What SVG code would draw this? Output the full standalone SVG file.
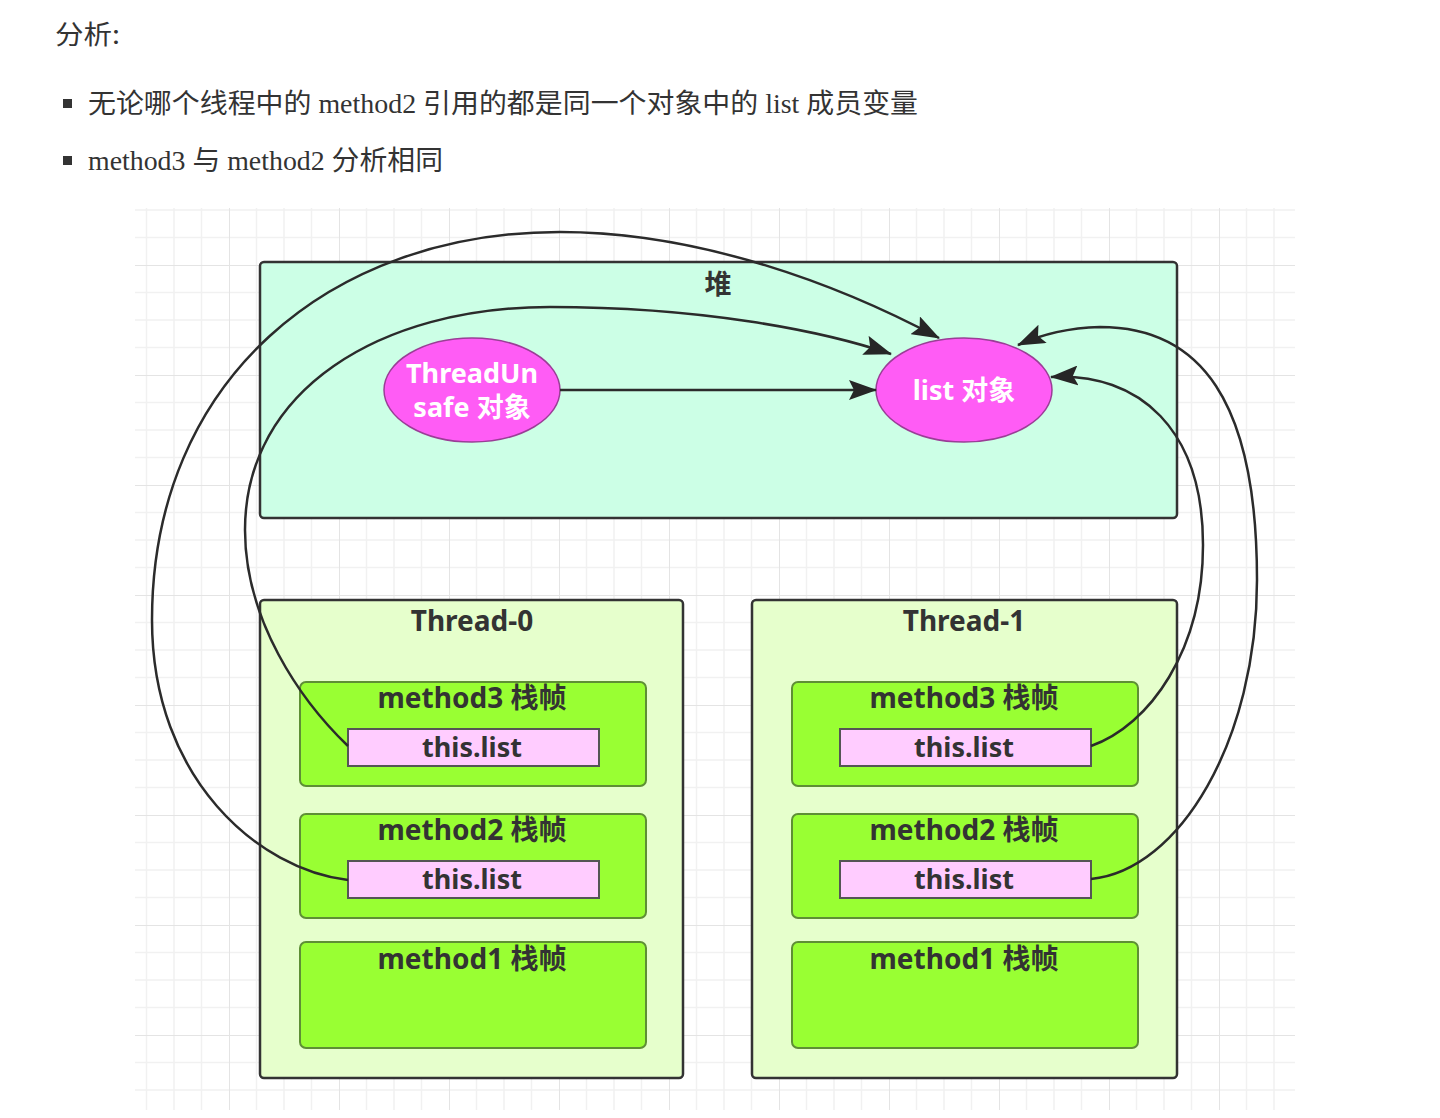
<svg xmlns="http://www.w3.org/2000/svg" width="1440" height="1118" viewBox="0 0 1440 1118">
<defs>
<pattern id="grid" patternUnits="userSpaceOnUse" x="9" y="45" width="110" height="110">
<path d="M27.5,0V110M55,0V110M82.5,0V110M0,27.5H110M0,55H110M0,82.5H110" stroke="#f1f1f1" stroke-width="1.5" fill="none"/>
<path d="M0,0V110M0,0H110" stroke="#e4e4e4" stroke-width="2" fill="none"/>
</pattern>
<marker id="arr" markerUnits="userSpaceOnUse" markerWidth="28" markerHeight="20" viewBox="0 0 28 20" refX="27" refY="10" orient="auto">
<path d="M0,0 L28,10 L0,20 L5,10 Z" fill="#262626"/>
</marker>
</defs>
<style>
.hdr{font-family:"Noto Sans CJK SC","Noto Sans",sans-serif;font-size:26px;fill:#333;}
.bul{font-family:"Liberation Serif","Noto Sans CJK SC",serif;font-size:27px;fill:#333;}
.lbl{font-family:"Noto Sans","Noto Sans CJK SC",sans-serif;font-size:27px;font-weight:bold;fill:#333;text-anchor:middle;}
.big{font-size:28px;}
.wlbl{font-family:"Noto Sans","Noto Sans CJK SC",sans-serif;font-size:27px;font-weight:bold;fill:#fff;text-anchor:middle;}
.heap{fill:#ccffe6;stroke:#333;stroke-width:2.5;}
.thread{fill:#e6ffcc;stroke:#333;stroke-width:2.5;}
.frame{fill:#99ff33;stroke:#5e8f35;stroke-width:2;}
.ref{fill:#ffccff;stroke:#555;stroke-width:2;}
.obj{fill:#ff5cf5;stroke:#9a3e96;stroke-width:1.5;}
.conn{fill:none;stroke:#2b2b2b;stroke-width:2.5;marker-end:url(#arr);}
</style>
<rect width="1440" height="1118" fill="#fff"/>
<text class="hdr" x="55" y="44" textLength="65" lengthAdjust="spacingAndGlyphs">分析:</text>
<rect x="63" y="99" width="9" height="9" fill="#333"/>
<text class="bul" x="88" y="113" textLength="830" lengthAdjust="spacingAndGlyphs">无论哪个线程中的 method2 引用的都是同一个对象中的 list 成员变量</text>
<rect x="63" y="156" width="9" height="9" fill="#333"/>
<text class="bul" x="88" y="170" textLength="355" lengthAdjust="spacingAndGlyphs">method3 与 method2 分析相同</text>
<rect x="135" y="208" width="1160" height="902" fill="url(#grid)"/>
<g id="heap">
<rect class="heap" x="260" y="262" width="917" height="256" rx="4"/>
<text class="lbl" x="718" y="294">堆</text>
</g>
<g id="threadunsafe">
<ellipse class="obj" cx="472" cy="390" rx="88" ry="52"/>
<text class="wlbl" x="472" y="383">ThreadUn</text>
<text class="wlbl" x="472" y="417">safe 对象</text>
</g>
<g id="listobj">
<ellipse class="obj" cx="964" cy="390" rx="88" ry="52"/>
<text class="wlbl" x="964" y="400">list 对象</text>
</g>
<g id="thread0">
<rect class="thread" x="260" y="600" width="423" height="478" rx="4"/>
<text class="lbl big" x="472" y="631">Thread-0</text>
</g>
<g id="t0m3">
<rect class="frame" x="300" y="682" width="346" height="104" rx="6"/>
<text class="lbl big" x="472" y="708">method3 栈帧</text>
<rect class="ref" x="348" y="729" width="251" height="37"/>
<text class="lbl" x="472" y="757">this.list</text>
</g>
<g id="t0m2">
<rect class="frame" x="300" y="814" width="346" height="104" rx="6"/>
<text class="lbl big" x="472" y="840">method2 栈帧</text>
<rect class="ref" x="348" y="861" width="251" height="37"/>
<text class="lbl" x="472" y="889">this.list</text>
</g>
<g id="t0m1">
<rect class="frame" x="300" y="942" width="346" height="106" rx="6"/>
<text class="lbl big" x="472" y="969">method1 栈帧</text>
</g>
<g id="thread1">
<rect class="thread" x="752" y="600" width="425" height="478" rx="4"/>
<text class="lbl big" x="964" y="631">Thread-1</text>
</g>
<g id="t1m3">
<rect class="frame" x="792" y="682" width="346" height="104" rx="6"/>
<text class="lbl big" x="964" y="708">method3 栈帧</text>
<rect class="ref" x="840" y="729" width="251" height="37"/>
<text class="lbl" x="964" y="757">this.list</text>
</g>
<g id="t1m2">
<rect class="frame" x="792" y="814" width="346" height="104" rx="6"/>
<text class="lbl big" x="964" y="840">method2 栈帧</text>
<rect class="ref" x="840" y="861" width="251" height="37"/>
<text class="lbl" x="964" y="889">this.list</text>
</g>
<g id="t1m1">
<rect class="frame" x="792" y="942" width="346" height="106" rx="6"/>
<text class="lbl big" x="964" y="969">method1 栈帧</text>
</g>
<g id="connectors">
<path class="conn" d="M560,390 L876,390"/>
<path class="conn" d="M348,746 C300,700 245,620 245,530 C245,390 380,307 550,307 C700,307 820,330 891,354"/>
<path class="conn" d="M348,880 C260,870 152,780 152,620 C152,380 330,232 560,232 C700,232 840,285 939,338"/>
<path class="conn" d="M1091,746 C1150,725 1203,650 1203,545 C1203,430 1140,372 1051,377"/>
<path class="conn" d="M1091,879 C1180,870 1257,740 1257,580 C1257,400 1200,327 1100,327 C1065,328 1040,335 1018,345"/>
</g>
</svg>
